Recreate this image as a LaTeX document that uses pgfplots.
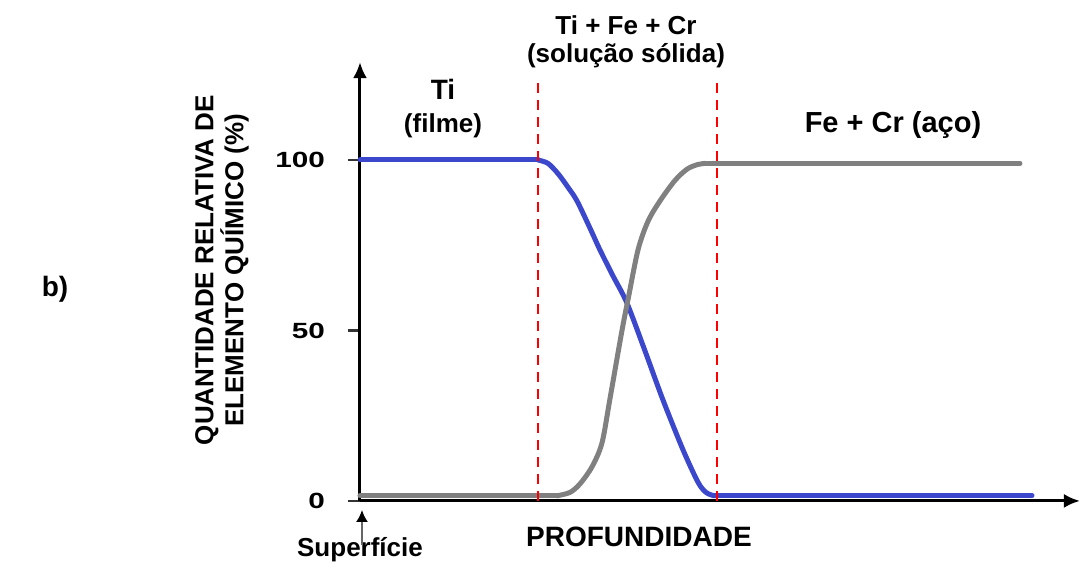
\documentclass[border=0pt]{standalone}
\usepackage{pgfplots}
\pgfplotsset{compat=1.18}
\usepackage{fontspec}
\setmainfont{Liberation Sans}
\usetikzlibrary{arrows.meta}
\definecolor{tiblue}{RGB}{59,72,204}
\definecolor{fegray}{RGB}{128,128,128}
\definecolor{dashred}{RGB}{255,0,0}
\begin{document}
\begin{tikzpicture}
\begin{axis}[
  scale only axis,
  width=360pt, height=219.4pt,
  xmin=0, xmax=720, ymin=0, ymax=128.7,
  axis lines=left,
  axis line style={line width=1.5pt, black, -{Latex[length=8pt,width=7pt]}},
  xtick=\empty,
  ytick={0,50,100},
  tick align=outside,
  major tick length=6pt,
  tick style={line width=1.2pt, black!80},
  yticklabel={\scalebox{1.35}[1]{\fontsize{11}{12}\selectfont\bfseries\pgfmathprintnumber[assume math mode=true]{\tick}}},
  yticklabel style={anchor=east, xshift=-8pt},
  ylabel={QUANTIDADE RELATIVA DE\\ELEMENTO QUÍMICO (\%)},
  ylabel style={at={(axis cs:-138,67.7)}, anchor=center, align=center,
    font=\fontsize{13}{15}\selectfont\bfseries},
  clip=false,
]
\path (axis cs:-360,-18.77) rectangle (axis cs:724,146.92);
% Ti (blue)
\addplot[tiblue, line width=2.5pt, line cap=round] coordinates {(0,100) (178,100)};
\addplot[tiblue, line width=2.5pt, line join=round, line cap=round, smooth, tension=0.5] coordinates {
 (178,100) (188,99) (198,96) (208,92) (217,88) (230,80) (240,73.6)
 (253,66) (267,58) (285,44) (303,29.6) (323,15) (338,5.5) (346,2.5) (354,1.5)};
\addplot[tiblue, line width=2.5pt, line cap=round] coordinates {(354,1.5) (672,1.5)};
% Fe + Cr (gray)
\addplot[fegray, line width=2.5pt, line cap=round] coordinates {(0,1.5) (197,1.5)};
\addplot[fegray, line width=2.5pt, line join=round, line cap=round, smooth, tension=0.5] coordinates {
 (197,1.5) (210,2.5) (220,5) (232,10) (242,17) (250,30) (262,50)
 (268,59) (278,73.6) (288,82) (300,88) (315,94) (327,97.3) (337,98.6) (345,99)};
\addplot[fegray, line width=2.5pt, line cap=round] coordinates {(345,99) (660,99)};
% region boundaries
\addplot[dashred, line width=1.2pt, dash pattern=on 5pt off 3.5pt] coordinates {(178,0) (178,123.5)};
\addplot[dashred, line width=1.2pt, dash pattern=on 5pt off 3.5pt] coordinates {(357,0) (357,123.5)};
% labels
\node[anchor=base, font=\fontsize{13}{15}\selectfont\bfseries] at (axis cs:266,136.66) {Ti + Fe + Cr};
\node[anchor=base, font=\fontsize{13}{15}\selectfont\bfseries] at (axis cs:266,128.45) {(solução sólida)};
\node[anchor=base, font=\fontsize{14}{16}\selectfont\bfseries] at (axis cs:83,117.6) {Ti};
\node[anchor=base, font=\fontsize{13}{15}\selectfont\bfseries] at (axis cs:83,108.2) {(filme)};
\node[anchor=base, font=\fontsize{14.5}{17}\selectfont\bfseries] at (axis cs:533,108.2) {Fe + Cr (aço)};
\node[anchor=base, font=\fontsize{14}{16}\selectfont\bfseries] at (axis cs:279,-13.49) {PROFUNDIDADE};
\node[anchor=base, font=\fontsize{13}{15}\selectfont\bfseries] at (axis cs:0,-16.42) {Superfície};
\node[anchor=base, font=\fontsize{14}{16}\selectfont\bfseries] at (axis cs:-305,60.1) {b)};
\draw[black!60, line width=1pt, -{Latex[length=6pt,width=6pt,black]}] (axis cs:2,-12.9) -- (axis cs:2,-2.64);
\end{axis}
\end{tikzpicture}
\end{document}
